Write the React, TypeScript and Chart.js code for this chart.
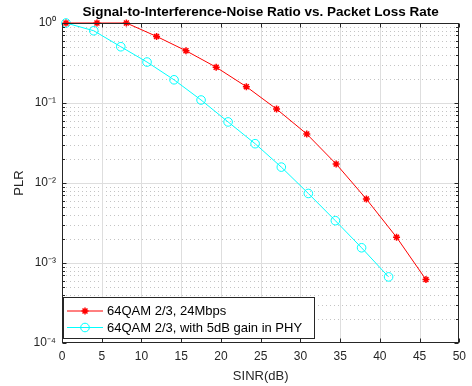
import React, { useEffect, useRef } from 'react';
import { Chart, registerables } from 'chart.js';

Chart.register(...registerables);

// SINR (dB) and packet loss rate
const redX = [0.5, 4.4, 8.1, 11.9, 15.6, 19.4, 23.2, 27.0, 30.8, 34.5, 38.3, 42.1, 45.8];
const redY = [1.0, 1.0, 1.0, 0.68, 0.45, 0.28, 0.16, 0.084, 0.041, 0.0173, 0.0063, 0.0021, 0.00062];
const cyanX = [0.5, 4.0, 7.4, 10.7, 14.1, 17.5, 20.9, 24.3, 27.6, 31.0, 34.4, 37.7, 41.1];
const cyanY = [1.0, 0.8, 0.505, 0.325, 0.195, 0.109, 0.058, 0.031, 0.0158, 0.0074, 0.00338, 0.00155, 0.00067];

const seriesNames = ['64QAM 2/3, 24Mbps', '64QAM 2/3, with 5dB gain in PHY'];
const titleText = 'Signal-to-Interference-Noise Ratio vs. Packet Loss Rate';
const xTitle = 'SINR(dB)';
const yTitle = 'PLR';
const xTicks = [0, 5, 10, 15, 20, 25, 30, 35, 40, 45, 50];
const yDecades = [-4, -3, -2, -1, 0];
const supMap: Record<string, string> = { '-': '⁻', '0': '⁰', '1': '¹', '2': '²', '3': '³', '4': '⁴' };

const FONT = '"Liberation Sans", Arial, Helvetica, sans-serif';
const AXIS = '#262626';
const RED = '#ff0000';
const CYAN = '#00ffff';

function decadeLabel(e: number) {
  return '10' + String(e).split('').map((c) => supMap[c] || c).join('');
}

function drawMarker(ctx: CanvasRenderingContext2D, kind: string, x: number, y: number, color: string) {
  ctx.save();
  ctx.strokeStyle = color;
  if (kind === 'star') {
    const r = 3.5;
    ctx.lineWidth = 1.5;
    ctx.beginPath();
    ctx.moveTo(x - r, y); ctx.lineTo(x + r, y);
    ctx.moveTo(x, y - r); ctx.lineTo(x, y + r);
    const d = r * Math.SQRT1_2;
    ctx.moveTo(x - d, y - d); ctx.lineTo(x + d, y + d);
    ctx.moveTo(x - d, y + d); ctx.lineTo(x + d, y - d);
    ctx.stroke();
  } else {
    ctx.lineWidth = 1;
    ctx.beginPath();
    ctx.arc(x, y, 4.3, 0, Math.PI * 2);
    ctx.stroke();
  }
  ctx.restore();
}

const framePlugin = {
  id: 'matlabFrame',
  beforeDatasetsDraw(chart: any) {
    const { ctx, chartArea } = chart;
    const { left, right, top, bottom } = chartArea;
    const xs = chart.scales.x;
    const ys = chart.scales.y;
    ctx.save();
    // minor dotted horizontal grid
    ctx.strokeStyle = '#c4c4c4';
    ctx.lineWidth = 1;
    ctx.setLineDash([1, 3]);
    for (let e = -4; e < 0; e++) {
      for (let k = 2; k <= 9; k++) {
        const y = Math.round(ys.getPixelForValue(k * Math.pow(10, e))) + 0.5;
        ctx.beginPath();
        ctx.moveTo(left, y);
        ctx.lineTo(right, y);
        ctx.stroke();
      }
    }
    ctx.setLineDash([]);
    // major grid
    ctx.strokeStyle = '#dedede';
    xTicks.forEach((t) => {
      if (t === xTicks[0] || t === xTicks[xTicks.length - 1]) return;
      const x = Math.round(xs.getPixelForValue(t)) + 0.5;
      ctx.beginPath();
      ctx.moveTo(x, top);
      ctx.lineTo(x, bottom);
      ctx.stroke();
    });
    yDecades.forEach((e) => {
      if (e === -4 || e === 0) return;
      const y = Math.round(ys.getPixelForValue(Math.pow(10, e))) + 0.5;
      ctx.beginPath();
      ctx.moveTo(left, y);
      ctx.lineTo(right, y);
      ctx.stroke();
    });
    ctx.restore();
  },
  afterDatasetsDraw(chart: any) {
    const { ctx, chartArea } = chart;
    const { left, right, top, bottom } = chartArea;
    const xs = chart.scales.x;
    const ys = chart.scales.y;
    const L = Math.round(left) + 0.5;
    const R = Math.round(right) - 0.5;
    const T = Math.round(top) + 0.5;
    const B = Math.round(bottom) - 0.5;
    ctx.save();
    ctx.strokeStyle = AXIS;
    ctx.lineWidth = 1;
    ctx.strokeRect(L, T, R - L, B - T);
    ctx.beginPath();
    xTicks.forEach((t) => {
      const x = Math.round(xs.getPixelForValue(t)) + 0.5;
      ctx.moveTo(x, B); ctx.lineTo(x, B - 4);
      ctx.moveTo(x, T); ctx.lineTo(x, T + 4);
    });
    for (let e = -4; e <= 0; e++) {
      const y = Math.round(ys.getPixelForValue(Math.pow(10, e))) + 0.5;
      ctx.moveTo(L, y); ctx.lineTo(L + 4, y);
      ctx.moveTo(R, y); ctx.lineTo(R - 4, y);
      if (e < 0) {
        for (let k = 2; k <= 9; k++) {
          const ym = Math.round(ys.getPixelForValue(k * Math.pow(10, e))) + 0.5;
          ctx.moveTo(L, ym); ctx.lineTo(L + 2.5, ym);
          ctx.moveTo(R, ym); ctx.lineTo(R - 2.5, ym);
        }
      }
    }
    ctx.stroke();

    // legend
    const bx = 63.5, by = 297.5, bw = 251, bh = 41;
    ctx.fillStyle = '#ffffff';
    ctx.fillRect(bx, by, bw, bh);
    ctx.strokeStyle = AXIS;
    ctx.strokeRect(bx, by, bw, bh);
    const rows = [
      { y: 311, color: RED, kind: 'star', label: seriesNames[0] },
      { y: 327.5, color: CYAN, kind: 'circle', label: seriesNames[1] },
    ];
    rows.forEach((r) => {
      ctx.strokeStyle = r.color;
      ctx.lineWidth = 1;
      ctx.beginPath();
      ctx.moveTo(67, r.y);
      ctx.lineTo(103, r.y);
      ctx.stroke();
      drawMarker(ctx, r.kind, 85, r.y, r.color);
      ctx.fillStyle = '#000000';
      ctx.font = `13px ${FONT}`;
      ctx.textAlign = 'left';
      ctx.textBaseline = 'middle';
      ctx.fillText(r.label, 107, r.y + 0.5);
    });

    // title
    ctx.fillStyle = '#000000';
    ctx.font = `bold 13.5px ${FONT}`;
    ctx.textAlign = 'center';
    ctx.textBaseline = 'middle';
    ctx.fillText(titleText, (left + right) / 2, 12.5);
    ctx.restore();
  },
};

export default function App() {
  const ref = useRef<HTMLCanvasElement | null>(null);
  useEffect(() => {
    if (!ref.current) return;
    const chart = new Chart(ref.current, {
      type: 'line',
      data: {
        datasets: [
          {
            label: seriesNames[0],
            data: redX.map((x, i) => ({ x, y: redY[i] })),
            borderColor: RED,
            backgroundColor: RED,
            borderWidth: 1,
            pointStyle: 'star',
            pointRadius: 3.5,
            pointBorderWidth: 1.5,
            pointBorderColor: RED,
            tension: 0,
            clip: false as any,
          },
          {
            label: seriesNames[1],
            data: cyanX.map((x, i) => ({ x, y: cyanY[i] })),
            borderColor: CYAN,
            backgroundColor: 'rgba(0,0,0,0)',
            borderWidth: 1,
            pointStyle: 'circle',
            pointRadius: 4.3,
            pointBorderWidth: 1,
            pointBorderColor: CYAN,
            pointBackgroundColor: 'rgba(0,0,0,0)',
            tension: 0,
            clip: false as any,
          },
        ],
      },
      options: {
        animation: false,
        responsive: false,
        devicePixelRatio: 1,
        layout: { padding: { left: 0, right: 7, top: 23, bottom: 0 } },
        plugins: { legend: { display: false }, tooltip: { enabled: false }, title: { display: false } },
        scales: {
          x: {
            type: 'linear',
            min: 0,
            max: 50,
            afterFit: (s: any) => { s.height = 43; },
            afterBuildTicks: (s: any) => { s.ticks = xTicks.map((v) => ({ value: v })); },
            grid: { display: false, drawTicks: false },
            border: { display: false },
            ticks: { color: AXIS, font: { family: FONT, size: 12 }, padding: 6, autoSkip: false, maxRotation: 0 },
            title: { display: true, text: xTitle, color: AXIS, font: { family: FONT, size: 13 }, padding: { top: 0, bottom: 2 } },
          },
          y: {
            type: 'logarithmic',
            min: 1e-4,
            max: 1,
            afterFit: (s: any) => { s.width = 62; },
            afterBuildTicks: (s: any) => { s.ticks = yDecades.map((e) => ({ value: Math.pow(10, e) })); },
            grid: { display: false, drawTicks: false },
            border: { display: false },
            ticks: {
              color: AXIS,
              font: { family: FONT, size: 12 },
              padding: 6,
              autoSkip: false,
              callback: (v: any) => decadeLabel(Math.round(Math.log10(Number(v)))),
            },
            title: { display: true, text: yTitle, color: AXIS, font: { family: FONT, size: 13 }, padding: { top: 12, bottom: 0 } },
          },
        },
      },
      plugins: [framePlugin],
    });
    return () => chart.destroy();
  }, []);
  return (
    <div style={{ position: 'absolute', left: 0, top: 0, width: 472, height: 386, background: '#fff' }}>
      <canvas ref={ref} width={472} height={386} style={{ display: 'block' }} />
    </div>
  );
}
